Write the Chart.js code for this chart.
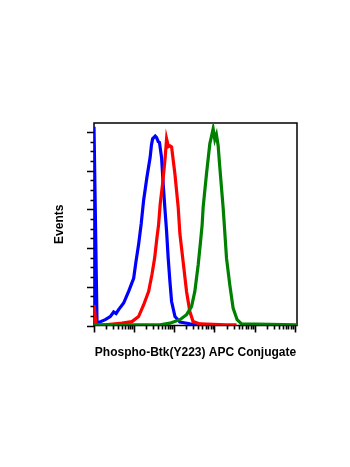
<!DOCTYPE html>
<html>
<head>
<meta charset="utf-8">
<script src="https://cdn.jsdelivr.net/npm/chart.js@4.4.1/dist/chart.umd.min.js"></script>
<style>
  html, body { margin: 0; padding: 0; background: #ffffff; }
  #wrap { width: 350px; height: 467px; }
</style>
</head>
<body>
<div id="wrap"><canvas id="c" width="350" height="467"></canvas></div>
<script>
// ---- data (x = fluorescence intensity, y = events, arbitrary units) ----
const xTitle = "Phospho-Btk(Y223) APC Conjugate";
const yTitle = "Events";

const xMajorTicks = [1, 10, 100, 1000, 10000, 100000];
const xMinorMultipliers = [2, 3, 4, 5, 6, 7, 8, 9];
const yMajorTicks = [0, 1, 2, 3, 4, 5];
const yMinorTicks = [0.25, 0.5, 0.75, 1.25, 1.5, 1.75, 2.25, 2.5, 2.75, 3.25, 3.5, 3.75, 4.25, 4.5, 4.75];

const blueX = [1, 1, 1.19, 1.91, 2.54, 3.09, 3.55, 4.11, 5.48, 7.29, 9.73, 11.1, 12.9, 15.0, 17.2, 20.8, 25.1, 26.9, 28.8, 33.5, 36.3, 39.8, 42.7, 48.3, 53.0, 58.3, 64.3, 70.5, 77.8, 85.7, 104, 138, 244, 697];
const blueY = [0, 5.13, 0.06, 0.15, 0.23, 0.35, 0.31, 0.41, 0.58, 0.88, 1.22, 1.65, 2.09, 2.63, 3.23, 3.83, 4.35, 4.65, 4.82, 4.89, 4.85, 4.75, 4.73, 4.33, 3.64, 3.03, 2.43, 1.74, 1.14, 0.62, 0.23, 0.09, 0.045, 0.02];

const redX = [1, 1.12, 1.91, 4.98, 8.81, 12.9, 17.2, 23.0, 27.7, 32.4, 36.9, 40.6, 44.6, 51.2, 59.4, 64.3, 71.3, 77.8, 85.7, 103.5, 125, 138, 166, 202, 244, 295, 434, 2000, 3550];
const redY = [0.53, 0.02, 0.02, 0.06, 0.10, 0.23, 0.53, 0.88, 1.31, 1.74, 2.26, 2.60, 3.14, 3.66, 4.35, 4.82, 4.62, 4.64, 4.61, 3.92, 3.06, 2.37, 1.65, 0.88, 0.36, 0.10, 0.04, 0.02, 0.02];

const greenX = [1, 43.9, 77.8, 138, 202, 269, 325, 394, 451, 494, 524, 635, 769, 832, 929, 1023, 1122, 1236, 1361, 1644, 1762, 2000, 2415, 2917, 3673, 4721, 114000];
const greenY = [0.02, 0.02, 0.06, 0.15, 0.28, 0.49, 0.88, 1.57, 2.17, 2.60, 3.06, 3.92, 4.70, 4.85, 5.08, 4.80, 4.93, 4.65, 4.09, 3.06, 2.60, 1.74, 1.05, 0.45, 0.15, 0.04, 0.02];

const xMin = 1, xMax = 114000;
const yMin = 0, yMax = 5.23;

// ---- helpers ----
function pts(xs, ys) { return xs.map((x, i) => ({ x: x, y: ys[i] })); }

Chart.defaults.font.family = "'Liberation Sans', Arial, sans-serif";

const frameAndTicks = {
  id: 'frameAndTicks',
  beforeDatasetsDraw(chart) {
    const ctx = chart.ctx;
    const a = chart.chartArea;
    ctx.save();
    ctx.strokeStyle = '#000';
    ctx.lineWidth = 1.5;
    ctx.strokeRect(a.left, a.top, a.right - a.left, a.bottom - a.top);
    ctx.restore();
  },
  afterDraw(chart) {
    const ctx = chart.ctx;
    const a = chart.chartArea;
    const xs = chart.scales.x, ys = chart.scales.y;
    ctx.save();
    ctx.strokeStyle = '#000';
    ctx.lineWidth = 1.6;
    ctx.beginPath();
    xMajorTicks.forEach((v, k) => {
      const px = Math.round(xs.getPixelForValue(v)) + 0.5;
      ctx.moveTo(px, a.bottom); ctx.lineTo(px, a.bottom + 7);
      if (k < xMajorTicks.length - 1) {
        xMinorMultipliers.forEach(m => {
          const q = Math.round(xs.getPixelForValue(v * m)) + 0.5;
          ctx.moveTo(q, a.bottom); ctx.lineTo(q, a.bottom + 4);
        });
      }
    });
    yMajorTicks.forEach(v => {
      const py = Math.round(ys.getPixelForValue(v)) + 0.5;
      ctx.moveTo(a.left, py); ctx.lineTo(a.left - 7, py);
    });
    yMinorTicks.forEach(v => {
      const py = Math.round(ys.getPixelForValue(v)) + 0.5;
      ctx.moveTo(a.left, py); ctx.lineTo(a.left - 3.5, py);
    });
    ctx.stroke();
    ctx.restore();
  }
};

new Chart(document.getElementById('c'), {
  type: 'line',
  data: {
    datasets: [
      { data: pts(blueX, blueY), borderColor: '#0000ff', borderWidth: 3.2, pointRadius: 0, tension: 0, order: 3 },
      { data: pts(redX, redY), borderColor: '#ff0000', borderWidth: 3.2, pointRadius: 0, tension: 0, order: 2 },
      { data: pts(greenX, greenY), borderColor: '#008000', borderWidth: 3.2, pointRadius: 0, tension: 0, order: 1 }
    ]
  },
  options: {
    responsive: false,
    animation: false,
    events: [],
    layout: { padding: { left: 48.6, top: 123, right: 53, bottom: 107.6 } },
    plugins: { legend: { display: false }, tooltip: { enabled: false } },
    scales: {
      x: {
        type: 'logarithmic',
        min: xMin, max: xMax,
        grid: { display: false, drawTicks: false },
        border: { display: false },
        ticks: { display: false },
        title: {
          display: true, text: xTitle, color: '#000',
          font: { size: 12, weight: 'bold' },
          padding: { top: 19.5, bottom: 0 }
        }
      },
      y: {
        type: 'linear',
        min: yMin, max: yMax,
        grid: { display: false, drawTicks: false },
        border: { display: false },
        ticks: { display: false },
        title: {
          display: true, text: yTitle, color: '#000',
          font: { size: 12, weight: 'bold' },
          padding: { top: 4, bottom: 27 }
        }
      }
    }
  },
  plugins: [frameAndTicks]
});
</script>
</body>
</html>
